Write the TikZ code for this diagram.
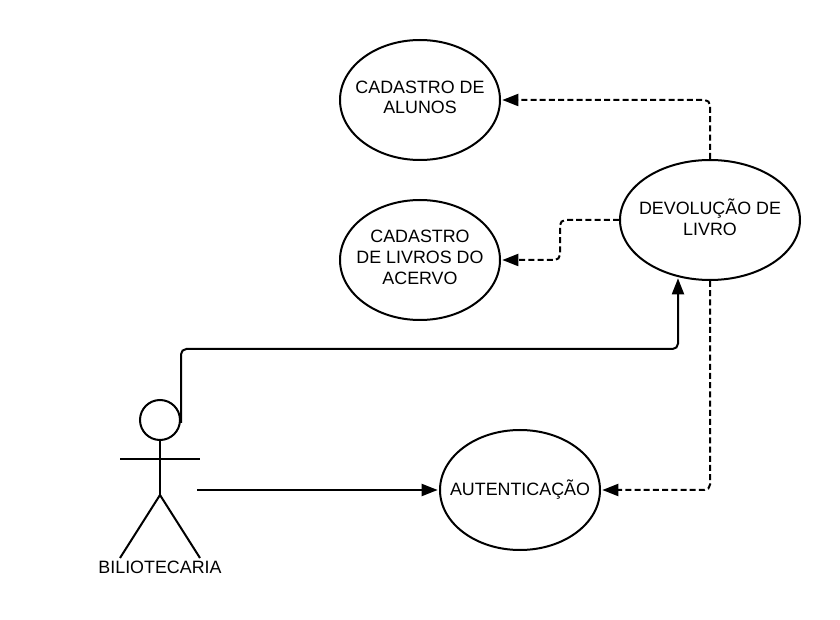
\documentclass[tikz,border=0pt]{standalone}
\usepackage{fontspec}
\setmainfont{Liberation Sans}
\usetikzlibrary{shapes.geometric, arrows.meta, positioning}

\tikzset{
	usecase/.style={draw, ellipse, line width=1.5pt, inner xsep=-15pt, inner ysep=0pt, text depth=4pt, align=center, minimum width=120pt, minimum height=90pt, font=\fontsize{13.4}{16}\selectfont},
	limb/.style={line width=1.5pt},
	assoc/.style={line width=1.5pt, rounded corners=4pt, -{Triangle[length=12pt,width=9pt]}, shorten >=1pt},
	dep/.style={assoc, dash pattern=on 4.5pt off 2.4pt},
}

\begin{document}
\begin{tikzpicture}[x=0.75pt, y=-0.75pt]
	\useasboundingbox (0,0) rectangle (840,620);

	\node[usecase, font=\fontsize{13.4}{15}\selectfont] (alunos) at (420,100) {CADASTRO DE\\ALUNOS};
	\node[usecase] (livros) at (420,260) {CADASTRO\\DE LIVROS DO\\ACERVO};
	\node[usecase, minimum width=135pt] (devolucao) at (710,220) {DEVOLUÇÃO DE\\LIVRO};
	\node[usecase] (autent) at (520,490) {AUTENTICAÇÃO};

	% ator
	\node[draw, circle, line width=1.5pt, minimum size=30pt, inner sep=0pt] (head) at (160,420) {};
	\coordinate (hip) at (160,495);
	\coordinate (armL) at (120,459);
	\coordinate (armR) at (200,459);
	\coordinate (legL) at (120,558);
	\coordinate (legR) at (200,558);
	\draw[limb] (head.south) -- (hip);
	\draw[limb] (armL) -- (armR);
	\draw[limb] (legL) -- (hip) -- (legR);
	\node[font=\fontsize{13.4}{16}\selectfont, inner sep=0pt] (ator) at (160,567) {BILIOTECARIA};

	% ligacoes
	\coordinate (headR) at (181,423);
	\coordinate (bodyR) at (197,490);
	\coordinate (devBase) at (678,277);
	\draw[assoc] (headR) |- (devBase |- 0,349) -- (devBase);
	\draw[assoc] (bodyR) -- (autent.west);
	\draw[dep] (devolucao.north) |- (alunos.east);
	\draw[dep] (devolucao.west) -- (560,220) |- (livros.east);
	\draw[dep] (devolucao.south) |- (autent.east);
\end{tikzpicture}
\end{document}
